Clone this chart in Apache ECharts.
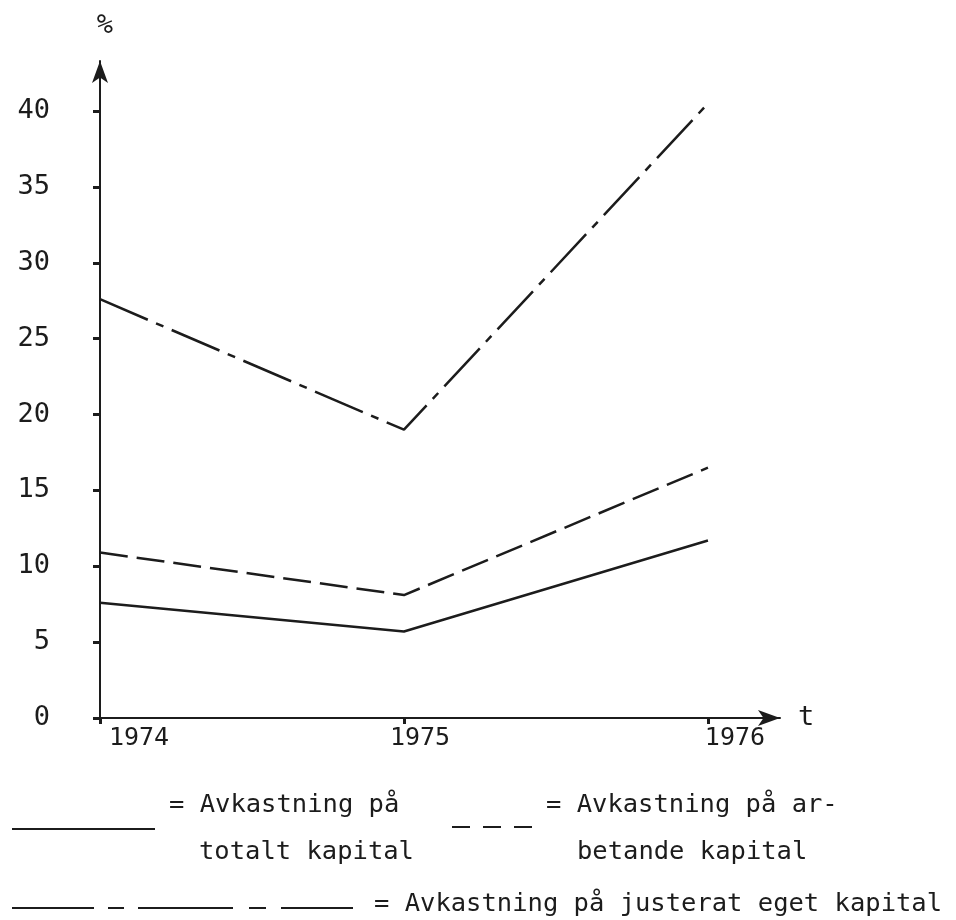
<!DOCTYPE html>
<html>
<head>
<meta charset="utf-8">
<script src="https://cdn.jsdelivr.net/npm/echarts@6/dist/echarts.min.js"></script>
<style>
  html, body { margin: 0; padding: 0; background: #ffffff; }
  #chart { width: 956px; height: 920px; }
</style>
</head>
<body>
<div id="chart"></div>
<script>
// ---- data ----
const years = [1974, 1975, 1976];
const yTicks = [0, 5, 10, 15, 20, 25, 30, 35, 40];
const totaltKapital = [7.6, 5.7, 11.7];      // solid
const arbetandeKapital = [10.9, 8.1, 16.5];  // dashed
const justeratEget = [27.6, 19.0, 40.5];     // long dash - short dash

const legendTexts = {
  totalt: ['= Avkastning på', 'totalt kapital'],
  arbetande: ['= Avkastning på ar-', 'betande kapital'],
  justerat: '= Avkastning på justerat eget kapital'
};

const FONT = '"DejaVu Sans Mono", monospace';
const INK = '#1c1c1c';

const pairs = (vals) => years.map((y, i) => [y, vals[i]]);

const chart = echarts.init(document.getElementById('chart'), null, { renderer: 'canvas' });

const labelPad = { 1974: 78, 1975: 32, 1976: 54 };

chart.setOption({
  backgroundColor: '#ffffff',
  animation: false,
  grid: { left: 100, right: 176, top: 61, bottom: 202, containLabel: false },
  xAxis: {
    type: 'value',
    min: 1974,
    max: 1976.237,
    interval: 1,
    name: 't',
    nameLocation: 'end',
    nameGap: 18,
    nameTextStyle: { fontFamily: FONT, fontSize: 27, color: INK, verticalAlign: 'middle', padding: [0, 0, 8, 0] },
    axisLine: { show: true, lineStyle: { color: INK, width: 2 }, symbol: ['none', 'arrow'], symbolSize: [12, 22] },
    axisTick: { show: true, customValues: years, length: 6, inside: false, lineStyle: { color: INK, width: 3 } },
    axisLabel: {
      customValues: years,
      margin: 8,
      formatter: (v) => '{y' + v + '|' + v + '}',
      rich: {
        y1974: { fontFamily: FONT, fontSize: 25, color: INK, padding: [0, 0, 0, labelPad[1974]] },
        y1975: { fontFamily: FONT, fontSize: 25, color: INK, padding: [0, 0, 0, labelPad[1975]] },
        y1976: { fontFamily: FONT, fontSize: 25, color: INK, padding: [0, 0, 0, labelPad[1976]] }
      }
    },
    splitLine: { show: false }
  },
  yAxis: {
    type: 'value',
    min: 0,
    max: 43.3,
    name: '%',
    nameLocation: 'end',
    nameGap: 22,
    nameTextStyle: { fontFamily: FONT, fontSize: 27, color: INK, align: 'center', padding: [0, 0, 0, 10] },
    axisLine: { show: true, lineStyle: { color: INK, width: 2 }, symbol: ['none', 'arrow'], symbolSize: [12, 22] },
    axisTick: { show: true, customValues: yTicks, length: 7, inside: false, lineStyle: { color: INK, width: 3 } },
    axisLabel: { customValues: yTicks, margin: 50, fontFamily: FONT, fontSize: 27, color: INK },
    splitLine: { show: false }
  },
  series: [
    {
      name: 'Avkastning på totalt kapital',
      type: 'line',
      data: pairs(totaltKapital),
      symbol: 'none',
      lineStyle: { color: INK, width: 2.5, type: 'solid' }
    },
    {
      name: 'Avkastning på arbetande kapital',
      type: 'line',
      data: pairs(arbetandeKapital),
      symbol: 'none',
      lineStyle: { color: INK, width: 2.5, type: [28, 9] }
    },
    {
      name: 'Avkastning på justerat eget kapital',
      type: 'line',
      data: pairs(justeratEget),
      symbol: 'none',
      lineStyle: { color: INK, width: 2.5, type: [52, 9, 8, 9] }
    }
  ],
  graphic: [
    // legend row 1, item 1
    { type: 'line', shape: { x1: 12, y1: 829, x2: 155, y2: 829 }, style: { stroke: INK, lineWidth: 2 } },
    { type: 'text', left: 169, top: 792, style: { text: legendTexts.totalt[0], font: '25.5px ' + FONT, fill: INK } },
    { type: 'text', left: 199, top: 839, style: { text: legendTexts.totalt[1], font: '25.5px ' + FONT, fill: INK } },
    // legend row 1, item 2
    { type: 'line', shape: { x1: 452, y1: 827, x2: 533, y2: 827 }, style: { stroke: INK, lineWidth: 2, lineDash: [18, 13] } },
    { type: 'text', left: 546, top: 792, style: { text: legendTexts.arbetande[0], font: '25.5px ' + FONT, fill: INK } },
    { type: 'text', left: 577, top: 839, style: { text: legendTexts.arbetande[1], font: '25.5px ' + FONT, fill: INK } },
    // legend row 2
    { type: 'line', shape: { x1: 12, y1: 908, x2: 353, y2: 908 }, style: { stroke: INK, lineWidth: 2, lineDash: [82, 14, 16, 14, 95, 16, 17, 15] } },
    { type: 'text', left: 374, top: 891, style: { text: legendTexts.justerat, font: '25.5px ' + FONT, fill: INK } }
  ]
});
</script>
</body>
</html>
